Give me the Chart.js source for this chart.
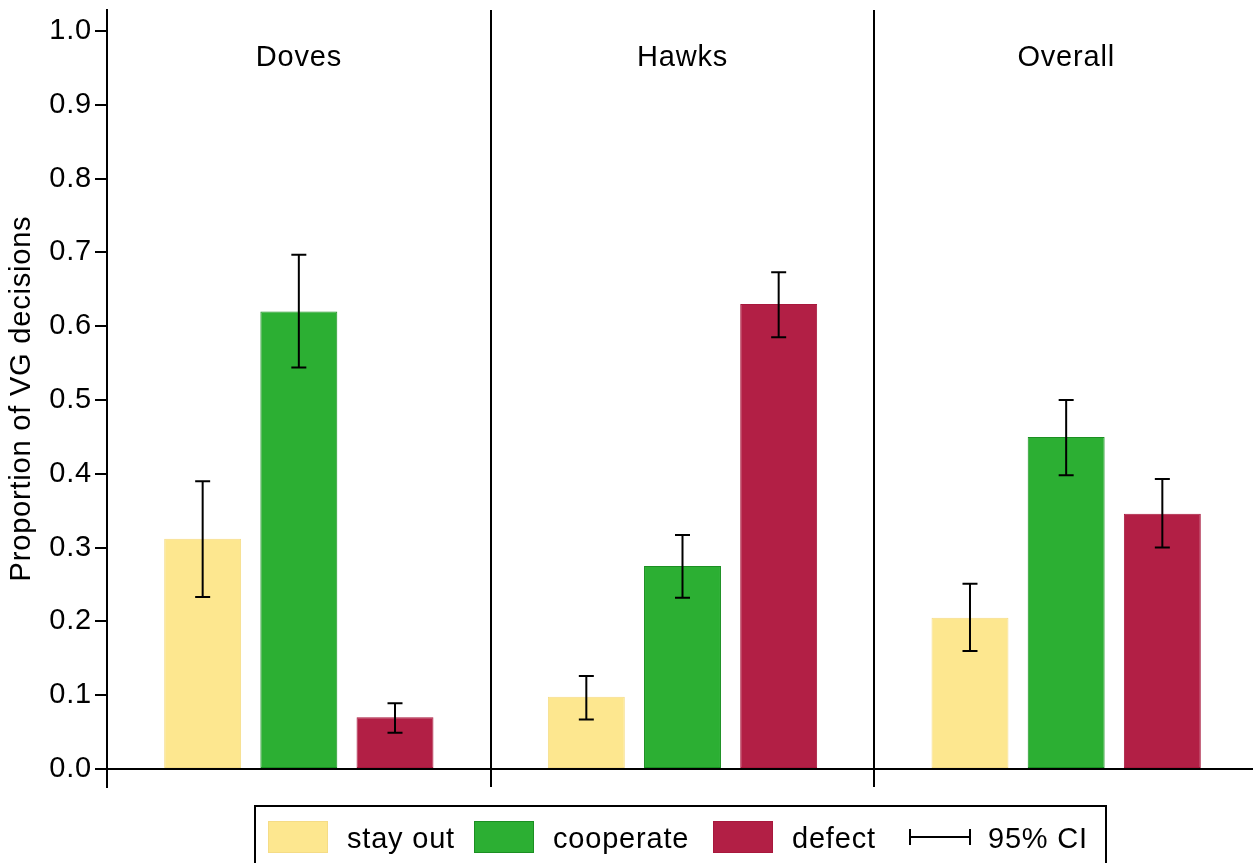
<!DOCTYPE html>
<html>
<head>
<meta charset="utf-8">
<title>Proportion of VG decisions</title>
<script src="https://cdn.jsdelivr.net/npm/chart.js@4.4.1/dist/chart.umd.min.js"></script>
<style>
  html, body { margin: 0; padding: 0; background: #ffffff; overflow: hidden; }
  canvas { display: block; }
</style>
</head>
<body>
<canvas id="chart" width="1258" height="863"></canvas>
<script>
// Groups of players and the decision shares within each group
const groups = ['Doves', 'Hawks', 'Overall'];
const seriesNames = ['stay out', 'cooperate', 'defect'];

const stayOut   = [0.312, 0.098, 0.205];
const cooperate = [0.620, 0.275, 0.450];
const defect    = [0.070, 0.630, 0.346];

// 95% confidence intervals (lower / upper) for each series
const stayOutLow    = [0.233, 0.067, 0.160];
const stayOutHigh   = [0.390, 0.126, 0.251];
const cooperateLow  = [0.544, 0.232, 0.398];
const cooperateHigh = [0.697, 0.317, 0.500];
const defectLow     = [0.049, 0.585, 0.300];
const defectHigh    = [0.089, 0.673, 0.393];

const yTicks = [0, 0.1, 0.2, 0.3, 0.4, 0.5, 0.6, 0.7, 0.8, 0.9, 1.0];
const yTickLabels = ['0.0', '0.1', '0.2', '0.3', '0.4', '0.5', '0.6', '0.7', '0.8', '0.9', '1.0'];
const yTitle = 'Proportion of VG decisions';
const ciLabel = '95% CI';

const FONT = '"Liberation Sans", Arial, Helvetica, sans-serif';
const FONT_SIZE = 29;
const SPACING = '0.8px';

const fillColors   = ['#FDE78F', '#2CAF33', '#B21F45'];
const borderColors = ['#F5DC86', '#1B8F22', '#A8183D'];

const ciLow  = [stayOutLow, cooperateLow, defectLow];
const ciHigh = [stayOutHigh, cooperateHigh, defectHigh];

Chart.defaults.font.family = FONT;
Chart.defaults.color = '#000';

// Slightly wider tracking for every piece of text on the canvas
const textSpacing = {
  id: 'textSpacing',
  beforeDraw(chart) {
    chart.ctx.letterSpacing = SPACING;
  }
};

// Error bars, group headings and the boxed legend beneath the plot
const annotations = {
  id: 'annotations',
  afterDatasetsDraw(chart) {
    const ctx = chart.ctx;
    const y = chart.scales.y;
    ctx.save();
    ctx.strokeStyle = '#000';
    ctx.lineWidth = 2;
    const cap = 7.5;
    chart.data.datasets.forEach((ds, di) => {
      const meta = chart.getDatasetMeta(di);
      meta.data.forEach((bar, i) => {
        const x = bar.x;
        const yLo = y.getPixelForValue(ciLow[di][i]);
        const yHi = y.getPixelForValue(ciHigh[di][i]);
        ctx.beginPath();
        ctx.moveTo(x, yLo); ctx.lineTo(x, yHi);
        ctx.moveTo(x - cap, yLo); ctx.lineTo(x + cap, yLo);
        ctx.moveTo(x - cap, yHi); ctx.lineTo(x + cap, yHi);
        ctx.stroke();
      });
    });
    ctx.restore();
  },
  afterDraw(chart) {
    const ctx = chart.ctx;
    const xs = chart.scales.x;
    ctx.save();
    ctx.letterSpacing = SPACING;
    ctx.fillStyle = '#000';
    ctx.font = FONT_SIZE + 'px ' + FONT;
    ctx.textBaseline = 'alphabetic';
    ctx.textAlign = 'center';
    groups.forEach((g, i) => {
      ctx.fillText(g, xs.getPixelForValue(i), 66);
    });

    // legend frame (its lower edge runs past the canvas)
    ctx.strokeStyle = '#000';
    ctx.lineWidth = 2;
    ctx.strokeRect(255, 806, 851, 80);

    ctx.textAlign = 'left';
    const swatchX = [268, 474, 713];
    const textX = [347, 553, 792];
    seriesNames.forEach((name, i) => {
      ctx.fillStyle = fillColors[i];
      ctx.fillRect(swatchX[i], 821, 60, 32);
      ctx.strokeStyle = borderColors[i];
      ctx.lineWidth = 1;
      ctx.strokeRect(swatchX[i] + 0.5, 821.5, 59, 31);
      ctx.fillStyle = '#000';
      ctx.fillText(name, textX[i], 848);
    });

    // confidence-interval key
    ctx.strokeStyle = '#000';
    ctx.lineWidth = 2;
    ctx.beginPath();
    ctx.moveTo(910, 837); ctx.lineTo(970, 837);
    ctx.moveTo(910, 829); ctx.lineTo(910, 845);
    ctx.moveTo(970, 829); ctx.lineTo(970, 845);
    ctx.stroke();
    ctx.fillStyle = '#000';
    ctx.fillText(ciLabel, 988, 848);
    ctx.restore();
  }
};

const datasets = [stayOut, cooperate, defect].map((values, i) => ({
  label: seriesNames[i],
  data: values,
  backgroundColor: fillColors[i],
  borderColor: borderColors[i],
  borderWidth: 1,
  borderSkipped: false,
  categoryPercentage: 0.752,
  barPercentage: 0.80
}));

new Chart(document.getElementById('chart'), {
  type: 'bar',
  data: { labels: groups, datasets },
  options: {
    responsive: false,
    animation: false,
    devicePixelRatio: 1,
    layout: { padding: { left: 0, right: 0, top: 10, bottom: 76 } },
    plugins: {
      legend: { display: false },
      tooltip: { enabled: false }
    },
    scales: {
      x: {
        type: 'category',
        offset: true,
        grid: {
          display: true,
          offset: true,
          drawTicks: false,
          color: '#000',
          lineWidth: 2
        },
        border: { display: false },
        ticks: { display: false },
        afterFit(scale) {
          scale.height = 0;
          scale.paddingLeft = 0;
          scale.paddingRight = 0;
        }
      },
      y: {
        min: -0.0244,
        max: 1.0285,
        afterBuildTicks(scale) {
          scale.ticks = yTicks.map(v => ({ value: v }));
        },
        ticks: {
          callback: (v, i) => yTickLabels[i],
          font: { size: FONT_SIZE, family: FONT },
          color: '#000',
          padding: 3
        },
        grid: {
          drawOnChartArea: true,
          color: ctx => (ctx.tick && ctx.tick.value === 0) ? '#000' : 'rgba(0,0,0,0)',
          tickColor: '#000',
          tickLength: 12,
          lineWidth: 2,
          tickWidth: 2
        },
        border: { display: true, color: '#000', width: 2 },
        title: {
          display: true,
          text: yTitle,
          color: '#000',
          font: { size: FONT_SIZE, family: FONT },
          padding: { top: 5, bottom: 0 }
        },
        afterFit(scale) {
          scale.width = 107;
          scale.paddingTop = 0;
          scale.paddingBottom = 0;
        }
      }
    }
  },
  plugins: [textSpacing, annotations]
});
</script>
</body>
</html>
